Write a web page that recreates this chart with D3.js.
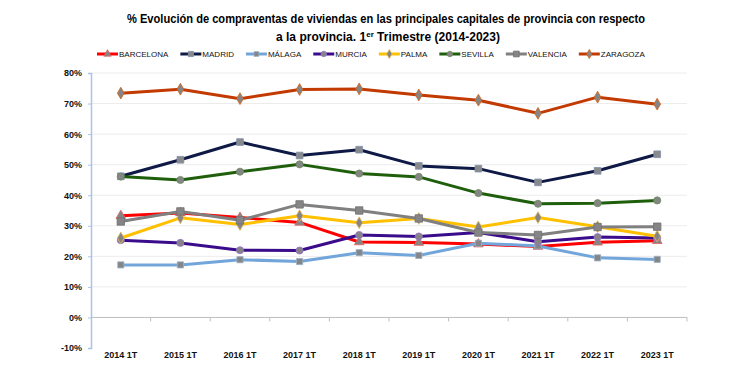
<!DOCTYPE html>
<html><head><meta charset="utf-8">
<script src="https://cdn.jsdelivr.net/npm/d3@7"></script>
<style>
html,body{margin:0;padding:0;background:#fff;}
svg{display:block;font-family:"Liberation Sans",Arial,sans-serif;}
</style></head>
<body><svg id="c" width="750" height="377"></svg>
<script>
const categories = ["2014 1T","2015 1T","2016 1T","2017 1T","2018 1T","2019 1T","2020 1T","2021 1T","2022 1T","2023 1T"];
const seriesNames = ["BARCELONA","MADRID","MÁLAGA","MURCIA","PALMA","SEVILLA","VALENCIA","ZARAGOZA"];
const barcelona = [33.3,34.2,32.7,31.1,24.7,24.5,24.0,23.2,24.6,25.1];
const madrid    = [46.2,51.6,57.4,53.0,54.9,49.6,48.7,44.2,48.0,53.4];
const malaga    = [17.2,17.2,18.9,18.3,21.2,20.3,24.3,23.4,19.5,19.0];
const murcia    = [25.3,24.4,22.0,21.9,27.0,26.5,27.8,24.8,26.3,26.0];
const palma     = [26.0,32.6,30.4,33.3,31.0,32.4,29.6,32.7,29.7,26.6];
const sevilla   = [46.1,45.0,47.7,50.1,47.1,46.0,40.7,37.2,37.4,38.3];
const valencia  = [31.4,34.7,31.8,37.0,35.0,32.4,27.8,27.0,29.6,29.7];
const zaragoza  = [73.4,74.7,71.6,74.6,74.8,72.8,71.1,66.8,72.1,69.8];
const yTicks = [-10,0,10,20,30,40,50,60,70,80];
const titleLine1 = "% Evolución de compraventas de viviendas en las principales capitales de provincia con respecto";
const titleLine2 = ["a la provincia.  1","er"," Trimestre (2014-2023)"];

const values = [barcelona,madrid,malaga,murcia,palma,sevilla,valencia,zaragoza];
const colors = ["#FF0000","#0E1A45","#72A6DA","#3A0C8C","#FFC000","#1F5F0C","#808080","#C23A00"];
const markerStroke = ["#E06060","#8090B0","#9AB0C8","#9A70D0","#E8B850","#6A8A5A","#707070","#D86010"];
const markerType = ["triangle","xsquare","square","circle","diamond","circle","square","diamond"];
const markerSize = [40,45,38,40,40,40,55,40];

const svg = d3.select("#c");
const L=91, R=687, T=73, B=348;
const x = d3.scaleBand().domain(categories).range([L,R]);
const y = d3.scaleLinear().domain([-10,80]).range([B,T]);
const cx = d => x(d)+x.bandwidth()/2;

// title
const tg = svg.append("g").attr("font-weight","bold").attr("fill","#000");
tg.append("text").attr("x",386).attr("y",23).attr("text-anchor","middle").attr("font-size",12)
  .attr("textLength",518).attr("lengthAdjust","spacingAndGlyphs").text(titleLine1);
const t2 = tg.append("text").attr("x",388).attr("y",41).attr("text-anchor","middle").attr("font-size",12)
  .attr("textLength",224).attr("lengthAdjust","spacingAndGlyphs");
t2.append("tspan").text(titleLine2[0]);
t2.append("tspan").attr("font-size",8).attr("dy",-4).text(titleLine2[1]);
t2.append("tspan").attr("dy",4).text(titleLine2[2]);

// gridlines
svg.append("g").selectAll("line").data(yTicks.filter(v=>v>0)).join("line")
  .attr("x1",L).attr("x2",R).attr("y1",d=>y(d)).attr("y2",d=>y(d))
  .attr("stroke","#ECECEC").attr("stroke-width",1);

// zero axis with ticks at band boundaries
svg.append("line").attr("x1",L).attr("x2",R).attr("y1",y(0)).attr("y2",y(0)).attr("stroke","#BFBFBF").attr("stroke-width",1);
svg.append("g").selectAll("line").data(categories.map((c,i)=>i+1)).join("line")
  .attr("x1",i=>L+i*x.step()).attr("x2",i=>L+i*x.step()).attr("y1",y(0)).attr("y2",y(0)+4)
  .attr("stroke","#BFBFBF");

// y axis
const ya = svg.append("g").attr("transform",`translate(${L},0)`)
  .call(d3.axisLeft(y).tickValues(yTicks).tickFormat(d=>d+"%").tickSize(3).tickPadding(6));
ya.select(".domain").attr("stroke","#A9C4E8").attr("stroke-width",1.5);
ya.selectAll(".tick line").attr("stroke","#A9C4E8");
ya.selectAll("text").attr("font-size",9).attr("font-weight","bold").attr("fill","#111").attr("font-family","Liberation Sans, Arial, sans-serif");

// x labels
const xa = svg.append("g").attr("transform",`translate(0,${B})`)
  .call(d3.axisBottom(x).tickSize(0).tickPadding(4));
xa.select(".domain").remove();
xa.selectAll("text").attr("font-size",9).attr("font-weight","bold").attr("fill","#111").attr("font-family","Liberation Sans, Arial, sans-serif");

function drawMarker(g, type, size, stroke, dark){
  if(type==="xsquare"){
    g.append("path").attr("d",d3.symbol(d3.symbolSquare,size)()).attr("fill","#8A8A8A").attr("stroke",stroke).attr("stroke-width",0.8);
    g.append("path").attr("d",d3.symbol(d3.symbolTimes,size*0.55)()).attr("fill",dark);
  } else {
    const s = {triangle:d3.symbolTriangle,square:d3.symbolSquare,circle:d3.symbolCircle,diamond:d3.symbolDiamond}[type];
    g.append("path").attr("d",d3.symbol(s,size)()).attr("fill","#858585").attr("stroke",stroke).attr("stroke-width",0.8);
  }
}

// series
const line = d3.line().x((d,i)=>cx(categories[i])).y(d=>y(d));
seriesNames.forEach((name,k)=>{
  const g = svg.append("g");
  g.append("path").datum(values[k]).attr("d",line).attr("fill","none")
    .attr("stroke",colors[k]).attr("stroke-width",3).attr("stroke-linejoin","round");
  values[k].forEach((v,i)=>{
    const m = g.append("g").attr("transform",`translate(${cx(categories[i])},${y(v)})`);
    drawMarker(m, markerType[k], markerSize[k], markerStroke[k], colors[k]);
  });
});

// legend
const lg = svg.append("g").attr("transform","translate(0,54)");
let lx = 97;
seriesNames.forEach((name,k)=>{
  const it = lg.append("g").attr("transform",`translate(${lx},0)`);
  it.append("line").attr("x1",0).attr("x2",21).attr("stroke",colors[k]).attr("stroke-width",3);
  const m = it.append("g").attr("transform","translate(10.5,0)");
  drawMarker(m, markerType[k], markerSize[k]*0.6, markerStroke[k], colors[k]);
  const t = it.append("text").attr("x",22).attr("y",3).attr("font-size",8).attr("fill","#111").text(name);
  const w = t.node().getComputedTextLength();
  lx += 22 + w + 12;
});
</script></body></html>
